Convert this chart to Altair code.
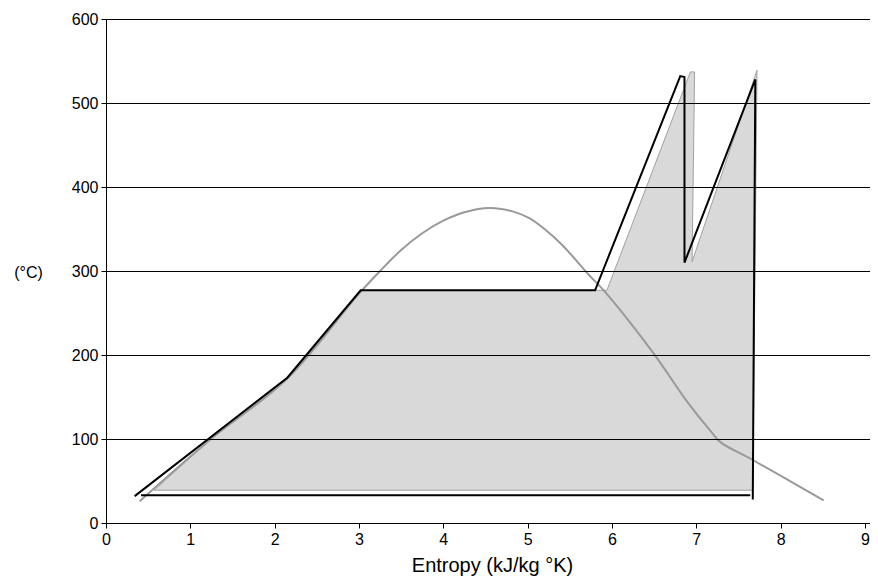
import altair as alt
import pandas as pd

# Saturation dome (entropy kJ/kg K, temperature °C)
dome_s = [0.40, 1.245, 2.15, 3.00, 3.25, 3.50, 3.75, 4.00, 4.25, 4.55, 4.82, 5.02, 5.20, 5.41, 5.73, 5.91, 6.50, 6.88, 7.19, 7.29, 7.67, 8.51]
dome_t = [26, 100, 172, 273, 300, 325, 345, 360, 370, 375, 371, 363, 350, 331, 295, 276, 201, 146, 107, 96, 75, 27]

# Actual cycle (black)
cyc_s = [0.34, 2.15, 3.02, 5.80, 6.81, 6.86, 6.86, 7.70, 7.67]
cyc_t = [32, 173, 277, 277, 532, 531, 310, 528, 28]
pump_s = [0.415, 7.64]
pump_t = [33, 33]

# Shaded ideal cycle area
area_s = [0.57, 1.245, 2.15, 3.02, 5.94, 6.93, 6.98, 6.95, 7.72, 7.67, 0.57]
area_t = [39, 100, 172, 277, 277, 537, 537, 311, 539, 39, 39]

x_ticks = [0, 1, 2, 3, 4, 5, 6, 7, 8, 9]
y_ticks = [0, 100, 200, 300, 400, 500, 600]

FONT = "Liberation Sans"

dome_df = pd.DataFrame({"s": dome_s, "t": dome_t, "o": range(len(dome_s))})
cyc_df = pd.concat([
    pd.DataFrame({"s": cyc_s, "t": cyc_t, "o": range(len(cyc_s)), "seg": "a"}),
    pd.DataFrame({"s": pump_s, "t": pump_t, "o": range(len(pump_s)), "seg": "b"}),
])
area_df = pd.DataFrame({"s": area_s, "t": area_t, "o": range(len(area_s))})

xscale = alt.Scale(domain=[0, 9.06], nice=False, zero=False)
yscale = alt.Scale(domain=[0, 600], nice=False)

xaxis = alt.Axis(values=x_ticks, format="d", grid=False, domainColor="black", tickColor="black",
                 tickSize=5, labelFont=FONT, labelFontSize=16, labelColor="black",
                 labelPadding=3, labelFlush=False, title="Entropy (kJ/kg °K)", titleFont=FONT,
                 titleFontSize=20, titleFontWeight="normal", titleColor="black",
                 titleY=42, titleBaseline="middle", titleX=386, titleAlign="center", zindex=1)
yaxis = alt.Axis(values=y_ticks, format="d", grid=True, gridColor="black", gridOpacity=1, gridWidth=1,
                 domainColor="black", tickColor="black", tickSize=5, labelFont=FONT,
                 labelFontSize=16, labelColor="black", labelPadding=3, labelFlush=False,
                 title="(°C)", titleFont=FONT, titleFontSize=16, titleFontWeight="normal",
                 titleColor="black", titleAngle=0, titleX=-78, titleY=253,
                 titleAlign="center", titleBaseline="middle", zindex=1)

fill = alt.Chart(area_df).mark_line(fill="#d9d9d9", stroke="#a0a0a0", strokeWidth=1).encode(
    x=alt.X("s:Q", scale=xscale, axis=xaxis),
    y=alt.Y("t:Q", scale=yscale, axis=yaxis),
    order="o:Q",
)

dome = alt.Chart(dome_df).mark_line(color="#999999", strokeWidth=2, interpolate="catmull-rom").encode(
    x=alt.X("s:Q", scale=xscale),
    y=alt.Y("t:Q", scale=yscale),
    order="o:Q",
)

cycle = alt.Chart(cyc_df).mark_line(color="black", strokeWidth=2).encode(
    x=alt.X("s:Q", scale=xscale),
    y=alt.Y("t:Q", scale=yscale),
    detail="seg:N",
    order="o:Q",
)

chart = alt.layer(fill, dome, cycle).properties(
    width=764, height=504,
    padding={"left": 98, "top": 11, "right": 0, "bottom": 60},
    autosize="none",
).configure_view(stroke=None).configure(background="white")

chart.save("out.html", embed_options={"renderer": "svg", "actions": False})
